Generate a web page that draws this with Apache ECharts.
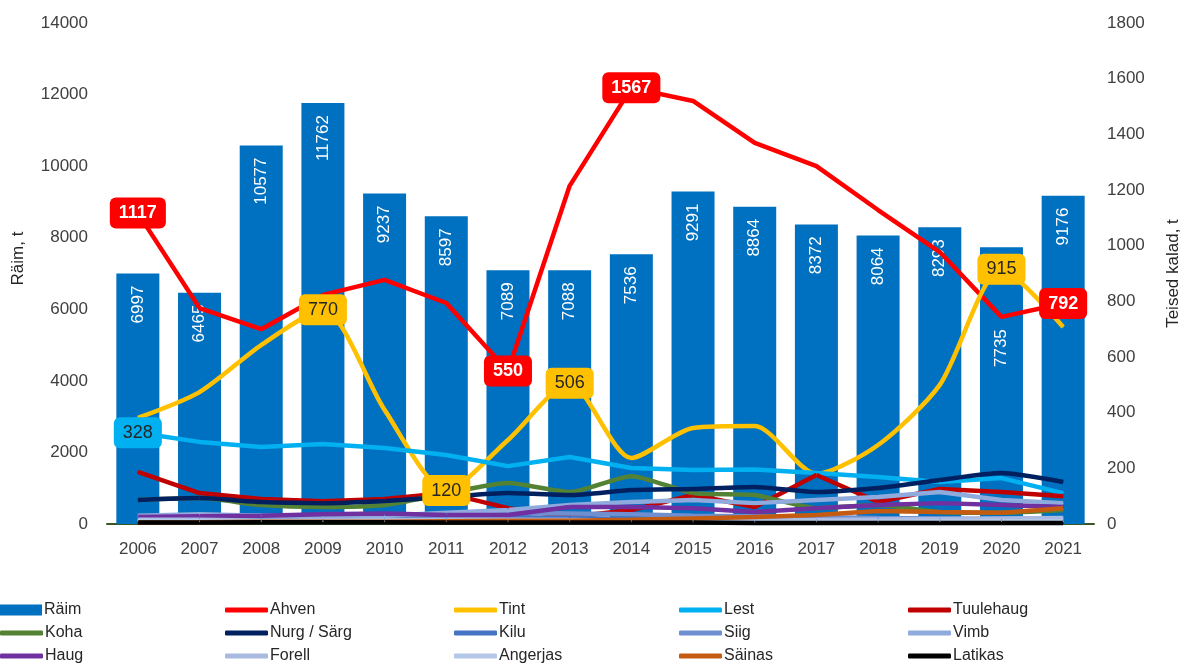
<!DOCTYPE html>
<html>
<head>
<meta charset="utf-8">
<script src="https://cdn.jsdelivr.net/npm/echarts@6/dist/echarts.min.js"></script>
<style>
  html, body { margin: 0; padding: 0; background: #fff; }
  #container { width: 1190px; height: 664px; }
</style>
</head>
<body>
<div id="container"></div>
<script>
var years = ["2006", "2007", "2008", "2009", "2010", "2011", "2012", "2013",
  "2014", "2015", "2016", "2017", "2018", "2019", "2020", "2021"];

// Räim on the left axis (t)
var raim = [6997, 6465, 10577, 11762, 9237, 8597, 7089, 7088, 7536, 9291, 8864, 8372, 8064, 8293, 7735, 9176];

// other fish on the right axis (t)
var ahven = [1117, 776, 700, 823, 877, 794, 550, 1215, 1567, 1520, 1369, 1286, 1128, 977, 744, 792];
var tint = [381, 474, 643, 770, 410, 120, 302, 506, 237, 345, 352, 180, 284, 500, 915, 708];
var lest = [328, 295, 277, 287, 273, 248, 208, 241, 201, 194, 196, 183, 169, 151, 165, 111];
var tuulehaug = [187, 111, 90, 82, 90, 111, 57, 25, 50, 104, 61, 176, 79, 126, 115, 100];
var koha = [86, 93, 68, 61, 68, 110, 147, 115, 172, 111, 104, 57, 68, 43, 40, 50];
var nurg = [86, 93, 79, 75, 83, 97, 111, 104, 122, 126, 133, 115, 129, 158, 183, 151];
var kilu = [20, 22, 18, 15, 18, 20, 25, 22, 18, 15, 12, 15, 20, 18, 15, 14];
var siig = [25, 28, 30, 28, 32, 35, 40, 38, 35, 30, 28, 25, 22, 20, 18, 20];
var vimb = [30, 35, 30, 25, 30, 40, 50, 68, 79, 86, 75, 86, 97, 115, 86, 75];
var haug = [25, 28, 30, 35, 38, 32, 32, 61, 61, 57, 43, 57, 68, 75, 68, 61];
var forell = [15, 15, 12, 12, 14, 15, 15, 14, 12, 12, 12, 14, 16, 18, 20, 22];
var angerjas = [12, 10, 10, 9, 9, 8, 8, 7, 7, 7, 7, 8, 8, 9, 10, 10];
var sainas = [5, 6, 8, 8, 8, 10, 12, 12, 15, 20, 25, 32, 47, 43, 40, 57];
var latikas = [5, 5, 6, 6, 6, 5, 5, 5, 5, 5, 4, 4, 4, 4, 4, 4];

// which points carry a value box
var ahvenLabels = [0, 6, 8, 15];
var tintLabels = [3, 5, 7, 14];
var lestLabels = [0];

// legend order, filled row by row (5 columns)
var legendNames = ["Räim", "Ahven", "Tint", "Lest", "Tuulehaug",
  "Koha", "Nurg / Särg", "Kilu", "Siig", "Vimb",
  "Haug", "Forell", "Angerjas", "Säinas", "Latikas"];

var font = "'Liberation Sans', sans-serif";
var textColor = "#404040";

var dom = document.getElementById("container");
var myChart = echarts.init(dom, null, { renderer: "canvas" });

function boxLabel(bg, fg, bold) {
  return {
    show: true,
    position: "inside",
    backgroundColor: bg,
    color: fg,
    fontFamily: font,
    fontSize: 18,
    fontWeight: bold ? "bold" : "normal",
    borderRadius: 6,
    padding: [7, 9, 6, 9]
  };
}

function lineData(values, labelIdx, label) {
  return values.map(function (v, i) {
    if (labelIdx.indexOf(i) >= 0) {
      return { value: v, label: label };
    }
    return v;
  });
}

function lineSeries(name, color, values, labelIdx, label, smooth) {
  return {
    name: name,
    type: "line",
    yAxisIndex: 1,
    data: lineData(values, labelIdx || [], label),
    color: color,
    symbol: "circle",
    symbolSize: 1,
    showSymbol: true,
    smooth: smooth || false,
    lineStyle: { color: color, width: 4.5 },
    itemStyle: { color: color },
    label: { show: false },
    emphasis: { disabled: true },
    animation: false
  };
}

var barData = raim.map(function (v, i) {
  // 2020 label sits lower in the bar
  if (i == 14) return { value: v, label: { distance: 82 } };
  return v;
});

var series = [
  {
    name: "Räim",
    type: "bar",
    yAxisIndex: 0,
    data: barData,
    barWidth: 43,
    color: "#0070C0",
    itemStyle: { color: "#0070C0" },
    label: {
      show: true,
      position: "insideTop",
      rotate: 90,
      align: "right",
      verticalAlign: "middle",
      distance: 12,
      color: "#fff",
      fontFamily: font,
      fontSize: 17
    },
    emphasis: { disabled: true },
    animation: false
  },
  lineSeries("Ahven", "#FF0000", ahven, ahvenLabels, boxLabel("#FF0000", "#fff", true)),
  lineSeries("Tint", "#FFC000", tint, tintLabels, boxLabel("#FFC000", "#262626", false), 0.25),
  lineSeries("Lest", "#00B0F0", lest, lestLabels, boxLabel("#00B0F0", "#262626", false)),
  lineSeries("Tuulehaug", "#C00000", tuulehaug),
  lineSeries("Koha", "#548235", koha, null, null, 0.2),
  lineSeries("Nurg / Särg", "#002060", nurg, null, null, 0.2),
  lineSeries("Kilu", "#4472C4", kilu),
  lineSeries("Siig", "#6F8FD0", siig),
  lineSeries("Vimb", "#8FAADC", vimb),
  lineSeries("Haug", "#7030A0", haug),
  lineSeries("Forell", "#A9B9E2", forell),
  lineSeries("Angerjas", "#B4C7E7", angerjas),
  lineSeries("Säinas", "#C55A11", sainas),
  lineSeries("Latikas", "#000000", latikas)
];

// one legend per item so the columns line up like the original
var colLeft = [0, 225, 454, 679, 908];
var rowTop = [601, 624, 647];
var legends = legendNames.map(function (name, i) {
  var isBar = name == "Räim";
  return {
    left: colLeft[i % 5],
    top: rowTop[Math.floor(i / 5)],
    padding: 0,
    itemWidth: isBar ? 42 : 43,
    itemHeight: isBar ? 11 : 5,
    itemGap: 0,
    icon: isBar ? "rect" : "roundRect",
    selectedMode: false,
    data: [name],
    textStyle: { fontFamily: font, fontSize: 16, color: "#262626", lineHeight: 18, padding: [0, 0, 0, -3] }
  };
});

function plain(v) {
  return String(v);
}

var option = {
  backgroundColor: "#fff",
  animation: false,
  grid: { left: 107, right: 86, top: 23, bottom: 140 },
  legend: legends,
  xAxis: {
    type: "category",
    data: years,
    axisLine: { lineStyle: { color: "#385723", width: 2 } },
    axisTick: { show: false },
    axisLabel: { fontFamily: font, fontSize: 17, color: textColor, margin: 17 }
  },
  yAxis: [
    {
      type: "value",
      min: 0,
      max: 14000,
      interval: 2000,
      name: "Räim, t",
      nameLocation: "middle",
      nameGap: 80,
      nameTextStyle: { fontFamily: font, fontSize: 17, color: "#262626", padding: [0, 0, 0, 30] },
      axisLine: { show: false },
      axisTick: { show: false },
      splitLine: { show: false },
      axisLabel: { fontFamily: font, fontSize: 17, color: textColor, margin: 19, formatter: plain }
    },
    {
      type: "value",
      min: 0,
      max: 1800,
      interval: 200,
      name: "Teised kalad, t",
      nameLocation: "middle",
      nameGap: 71,
      nameRotate: 90,
      nameTextStyle: { fontFamily: font, fontSize: 17, color: "#262626" },
      axisLine: { show: false },
      axisTick: { show: false },
      splitLine: { show: false },
      axisLabel: { fontFamily: font, fontSize: 17, color: textColor, margin: 13, formatter: plain }
    }
  ],
  series: series
};

myChart.setOption(option);
</script>
</body>
</html>
